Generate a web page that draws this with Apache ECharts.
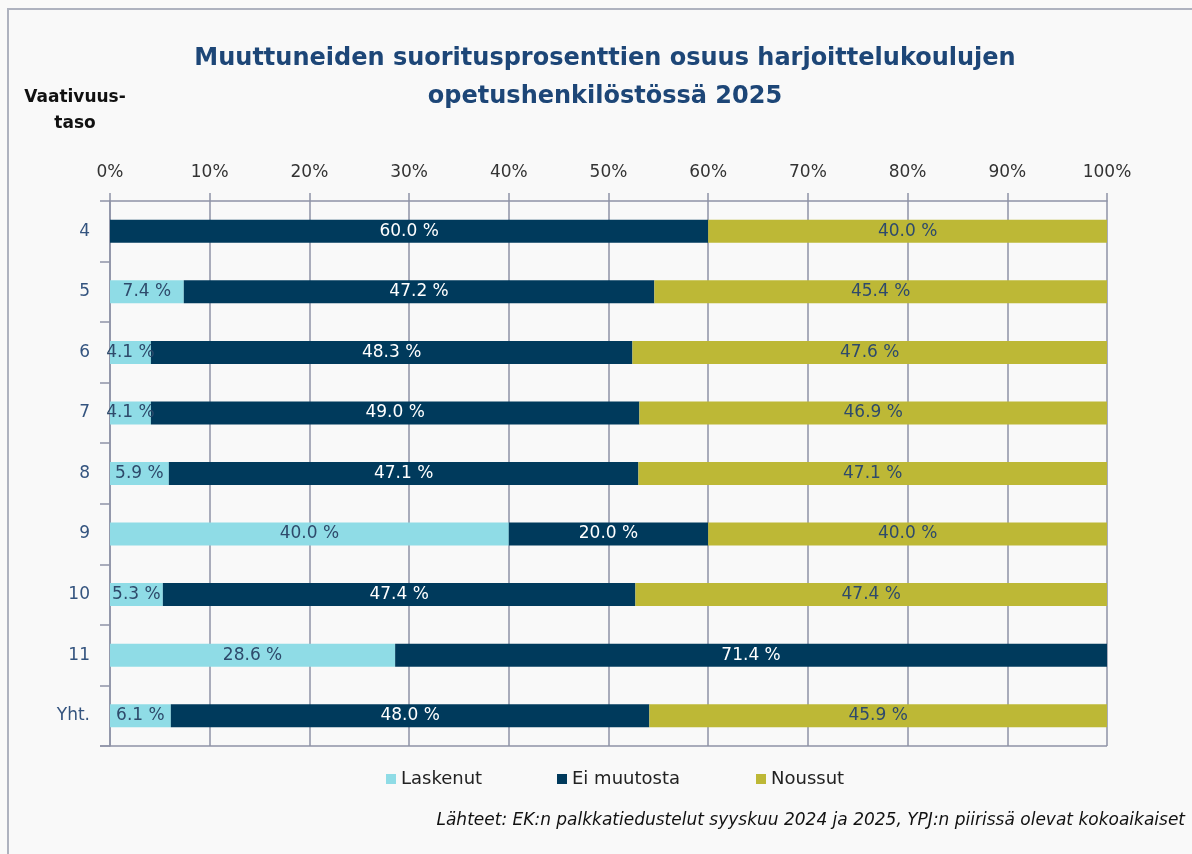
<!DOCTYPE html>
<html>
<head>
<meta charset="utf-8">
<script src="https://cdn.jsdelivr.net/npm/echarts@6/dist/echarts.min.js"></script>
<style>
    html, body { margin: 0; padding: 0; background: #f9f9f9; }
    #frame {
        position: absolute; left: 7px; top: 8px; width: 1185px; height: 846px;
        border-left: 2px solid #aeb2bf; border-top: 2px solid #aeb2bf;
    }
    #chart { position: absolute; left: 0; top: 0; width: 1192px; height: 854px; }
</style>
</head>
<body>
<div id="frame"></div>
<div id="chart"></div>
<script>
    // vaativuustasot ylhäältä alas
    var categories = ['4', '5', '6', '7', '8', '9', '10', '11', 'Yht.'];
    var seriesNames = ['Laskenut', 'Ei muutosta', 'Noussut'];
    var laskenut = [0, 7.4, 4.1, 4.1, 5.9, 40.0, 5.3, 28.6, 6.1];
    var eiMuutosta = [60.0, 47.2, 48.3, 49.0, 47.1, 20.0, 47.4, 71.4, 48.0];
    var noussut = [40.0, 45.4, 47.6, 46.9, 47.1, 40.0, 47.4, 0, 45.9];
    var xTicks = [0, 10, 20, 30, 40, 50, 60, 70, 80, 90, 100];

    var colors = ['#8fdce6', '#003a5c', '#bdb836'];
    var labelColors = ['#2e4a6b', '#ffffff', '#2e4a6b'];
    var gridColor = '#8e92a6';
    var font = '"DejaVu Sans", Verdana, sans-serif';

    var chart = echarts.init(document.getElementById('chart'));

    function makeSeries(name, data, i) {
        return {
            name: name,
            type: 'bar',
            stack: 'total',
            barWidth: 23,
            data: data,
            itemStyle: { color: colors[i] },
            label: {
                show: true,
                position: 'inside',
                color: labelColors[i],
                fontSize: 17,
                fontFamily: font,
                formatter: function (p) {
                    return p.value ? p.value.toFixed(1) + ' %' : '';
                }
            }
        };
    }

    function makeLegend(name, left) {
        return {
            data: [name],
            left: left,
            top: 765,
            itemWidth: 10,
            itemHeight: 10,
            itemGap: 6,
            icon: 'rect',
            textStyle: { fontSize: 18, color: '#222', fontFamily: font }
        };
    }

    chart.setOption({
        backgroundColor: 'transparent',
        animation: false,
        grid: { left: 110, right: 85, top: 201, bottom: 108 },
        legend: [
            makeLegend(seriesNames[0], 381),
            makeLegend(seriesNames[1], 552),
            makeLegend(seriesNames[2], 751)
        ],
        xAxis: {
            type: 'value',
            position: 'top',
            min: xTicks[0],
            max: xTicks[xTicks.length - 1],
            interval: 10,
            axisLine: { show: true, lineStyle: { color: gridColor, width: 1.5 } },
            axisTick: { show: true, length: 8, lineStyle: { color: gridColor, width: 1.5 } },
            splitLine: { show: true, lineStyle: { color: gridColor, width: 1.5 } },
            axisLabel: {
                margin: 20,
                fontSize: 17,
                color: '#333',
                fontFamily: font,
                formatter: '{value}%'
            }
        },
        yAxis: {
            type: 'category',
            inverse: true,
            data: categories,
            axisLine: { show: true, lineStyle: { color: gridColor, width: 1.5 } },
            axisTick: { show: true, length: 10, lineStyle: { color: gridColor, width: 1.5 } },
            axisLabel: { margin: 20, fontSize: 17, color: '#34547f', fontFamily: font }
        },
        graphic: [
            {
                type: 'line',
                shape: { x1: 100, y1: 746, x2: 1107, y2: 746 },
                style: { stroke: gridColor, lineWidth: 1.5 }
            },
            {
                type: 'text',
                x: 605, y: 40,
                style: {
                    text: 'Muuttuneiden suoritusprosenttien osuus harjoittelukoulujen\nopetushenkilöstössä 2025',
                    font: 'bold 24px ' + font,
                    fill: '#1d4677',
                    align: 'center',
                    lineHeight: 38
                }
            },
            {
                type: 'text',
                x: 75, y: 85,
                style: {
                    text: 'Vaativuus-\ntaso',
                    font: 'bold 17px ' + font,
                    fill: '#111',
                    align: 'center',
                    lineHeight: 26
                }
            },
            {
                type: 'text',
                x: 1185, y: 812,
                style: {
                    text: 'Lähteet: EK:n palkkatiedustelut syyskuu 2024 ja 2025, YPJ:n piirissä olevat kokoaikaiset',
                    font: 'italic 17px ' + font,
                    fill: '#111',
                    align: 'right'
                }
            }
        ],
        series: [
            makeSeries(seriesNames[0], laskenut, 0),
            makeSeries(seriesNames[1], eiMuutosta, 1),
            makeSeries(seriesNames[2], noussut, 2)
        ]
    });
</script>
</body>
</html>
